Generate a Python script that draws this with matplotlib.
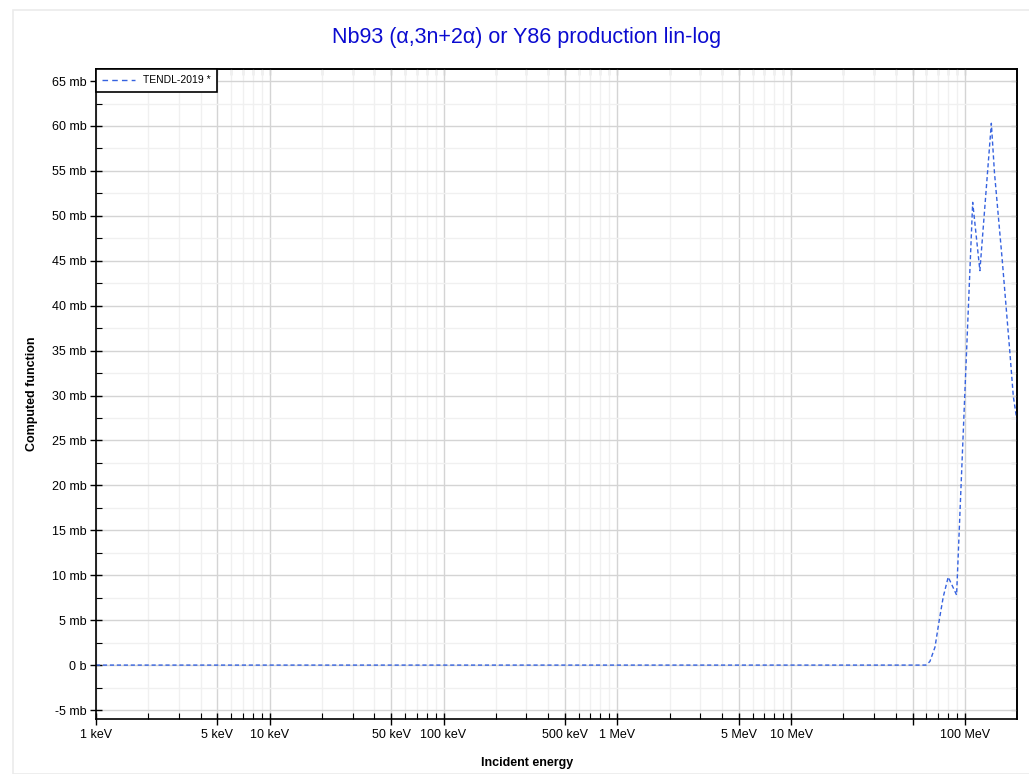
import matplotlib
matplotlib.use("Agg")
import matplotlib.pyplot as plt
from matplotlib.patches import Rectangle
from matplotlib.ticker import FixedLocator, FixedFormatter, NullFormatter

plt.rcParams["font.family"] = ["Liberation Sans", "DejaVu Sans"]

# TENDL-2019 Nb93(a,x) Y86 production, energy in MeV, cross section in mb
energy = [0.001, 0.01, 0.1, 1.0, 10.0, 40.0, 59.7, 62.9, 67.3, 71.2, 75.1, 80.2,
          89.6, 99.6, 110.9, 122.0, 142.0, 148.0, 164.0, 181.0, 190.0, 202.0]
xs = [0.0, 0.0, 0.0, 0.0, 0.0, 0.0, 0.0, 0.4, 2.0, 5.0, 7.6, 9.8,
      7.8, 29.5, 51.5, 43.9, 60.3, 54.8, 45.1, 35.1, 29.9, 26.5]

x_major = [0.001, 0.005, 0.01, 0.05, 0.1, 0.5, 1, 5, 10, 50, 100]
x_labels = ["1 keV", "5 keV", "10 keV", "50 keV", "100 keV", "500 keV",
            "1 MeV", "5 MeV", "10 MeV", "", "100 MeV"]
y_major = [-5, 0, 5, 10, 15, 20, 25, 30, 35, 40, 45, 50, 55, 60, 65]
y_labels = ["-5 mb", "0 b", "5 mb", "10 mb", "15 mb", "20 mb", "25 mb", "30 mb",
            "35 mb", "40 mb", "45 mb", "50 mb", "55 mb", "60 mb", "65 mb"]

title = "Nb93 (\u03b1,3n+2\u03b1) or Y86 production lin-log"
series_name = "TENDL-2019 *"

fig = plt.figure(figsize=(10.29, 7.74), dpi=100)
fig.patches.append(Rectangle((13 / 1029, 0), 1.0, 1 - 10 / 774, transform=fig.transFigure,
                             fill=False, edgecolor="#ebebeb", linewidth=1.2))

ax = fig.add_axes([96 / 1029, 1 - 719 / 774, (1017 - 96) / 1029, (719 - 69) / 774])
ax.set_xscale("log")
ax.set_xlim(0.001, 199.5)
ax.set_ylim(-6.0, 66.34)

ax.plot(energy, xs, color="#3562e0", linewidth=1.0, linestyle=(0, (3, 2)),
        label=series_name)

# ticks
x_minor = []
for d in [0.001, 0.01, 0.1, 1, 10, 100]:
    for m in [2, 3, 4, 6, 7, 8, 9]:
        if d * m <= 200:
            x_minor.append(d * m)
y_minor = [v + 2.5 for v in y_major]

ax.xaxis.set_major_locator(FixedLocator(x_major))
ax.xaxis.set_major_formatter(FixedFormatter(x_labels))
ax.xaxis.set_minor_locator(FixedLocator(x_minor))
ax.xaxis.set_minor_formatter(NullFormatter())
ax.yaxis.set_major_locator(FixedLocator(y_major))
ax.yaxis.set_major_formatter(FixedFormatter(y_labels))
ax.yaxis.set_minor_locator(FixedLocator(y_minor))

ax.tick_params(which="major", direction="inout", length=8, width=1, labelsize=9, pad=3)
ax.tick_params(which="minor", direction="in", length=4, width=0.8)

# top and right: short inward ticks only
top = ax.secondary_xaxis("top")
top.xaxis.set_major_locator(FixedLocator(x_major + x_minor))
top.xaxis.set_minor_locator(FixedLocator([]))
top.tick_params(which="both", direction="in", length=4, width=0.8, labeltop=False)
right = ax.secondary_yaxis("right")
right.yaxis.set_major_locator(FixedLocator(y_major + y_minor))
right.tick_params(which="both", direction="in", length=4, width=0.8, labelright=False)
for sa in (top, right):
    for s in sa.spines.values():
        s.set_linewidth(1.2)

ax.grid(which="major", color="#d4d4d4", linewidth=1.0)
ax.grid(which="minor", color="#f0f0f0", linewidth=1.0)
ax.set_axisbelow(True)
for s in ax.spines.values():
    s.set_linewidth(1.2)

leg = ax.legend(loc="upper left", borderaxespad=0, fancybox=False, fontsize=7.5,
                edgecolor="black", framealpha=1, handlelength=3.1, borderpad=0.6)
leg.get_frame().set_linewidth(1.2)
leg.get_lines()[0].set_linestyle((0, (4, 3)))

fig.text(527 / 1029, 1 - 38 / 774, title, color="#0b0bd0", fontsize=15.5,
         ha="center", va="center")
fig.text(527 / 1029, 1 - 763 / 774, "Incident energy", fontsize=9, fontweight="bold",
         ha="center", va="center")
fig.text(32 / 1029, 1 - 394 / 774, "Computed function", fontsize=9, fontweight="bold",
         ha="center", va="center", rotation=90)

fig.savefig("out.png", dpi=100)
